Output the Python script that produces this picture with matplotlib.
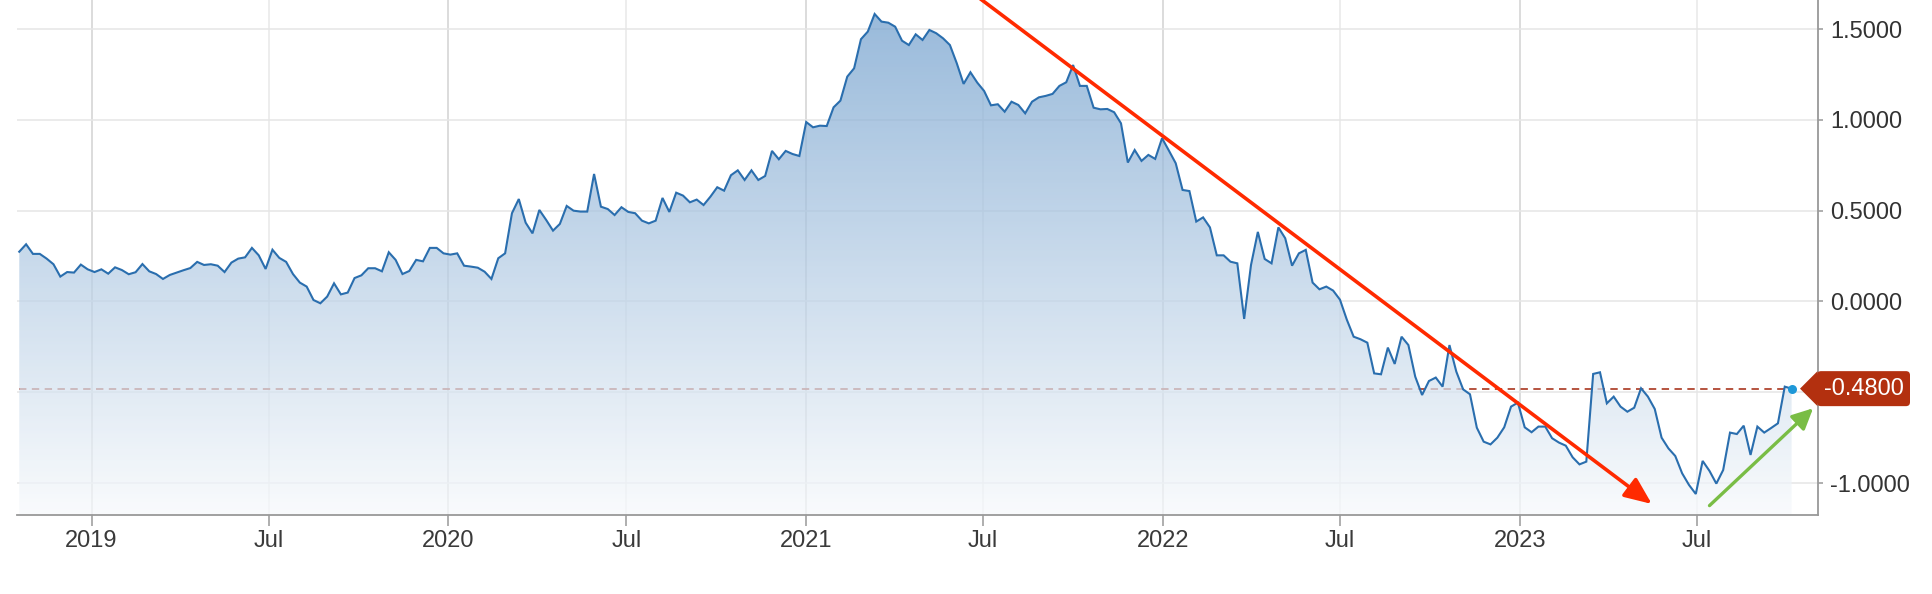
import numpy as np
import pandas as pd
import matplotlib
matplotlib.use("Agg")
import matplotlib.pyplot as plt
import matplotlib.dates as mdates
from matplotlib.patches import Polygon, FancyBboxPatch
from matplotlib.transforms import ScaledTranslation

plt.rcParams['font.family'] = ['Liberation Sans', 'DejaVu Sans']
plt.rcParams['axes.unicode_minus'] = False

# ---------------- data ----------------
last_date = '2023-10-06'
values = [
    0.274, 0.315, 0.262, 0.262, 0.236, 0.205, 0.137, 0.162, 0.159, 0.203,
    0.177, 0.162, 0.177, 0.153, 0.188, 0.173, 0.150, 0.161, 0.206, 0.166,
    0.151, 0.124, 0.146, 0.159, 0.172, 0.184, 0.218, 0.201, 0.205, 0.197,
    0.162, 0.214, 0.236, 0.243, 0.295, 0.254, 0.179, 0.285, 0.240, 0.218,
    0.151, 0.104, 0.082, 0.008, -0.010, 0.027, 0.100, 0.039, 0.049, 0.129,
    0.144, 0.183, 0.183, 0.166, 0.271, 0.229, 0.151, 0.168, 0.229, 0.221,
    0.295, 0.295, 0.265, 0.258, 0.265,
    0.197, 0.192, 0.186, 0.164, 0.124, 0.238, 0.265, 0.486, 0.564, 0.434,
    0.375, 0.504, 0.449, 0.390, 0.427, 0.526, 0.500, 0.495, 0.495, 0.702,
    0.522, 0.509, 0.476, 0.519, 0.493, 0.486, 0.445, 0.430, 0.445, 0.570,
    0.493, 0.599, 0.583, 0.546, 0.561, 0.531, 0.577, 0.629, 0.610, 0.695,
    0.722, 0.669, 0.722, 0.669, 0.691, 0.829, 0.783, 0.829, 0.812, 0.801,
    0.988, 0.959, 0.968, 0.966, 1.069, 1.106, 1.238, 1.284, 1.444, 1.486,
    1.583, 1.541, 1.535, 1.513,
    1.436, 1.412, 1.471, 1.440, 1.495, 1.477, 1.449, 1.412, 1.312, 1.198,
    1.262, 1.205, 1.159, 1.080, 1.086, 1.045, 1.100, 1.082, 1.036, 1.100,
    1.124, 1.132, 1.143, 1.187, 1.207, 1.302, 1.187, 1.187, 1.067, 1.058,
    1.060, 1.042, 0.981, 0.765, 0.834, 0.774, 0.807, 0.785, 0.899, 0.831,
    0.761, 0.614, 0.608, 0.440, 0.463, 0.408, 0.254, 0.254, 0.219, 0.210,
    -0.096, 0.201, 0.383, 0.234, 0.210, 0.408, 0.348, 0.197, 0.265, 0.284,
    0.104, 0.067, 0.082, 0.060,
    0.010, -0.100,
    -0.194, -0.208, -0.227, -0.396, -0.401, -0.254, -0.344, -0.194, -0.240, -0.414,
    -0.515, -0.438, -0.419, -0.469, -0.240, -0.386, -0.484, -0.511, -0.695, -0.772,
    -0.787, -0.750, -0.693, -0.579, -0.557, -0.693, -0.720, -0.689, -0.689, -0.753,
    -0.777, -0.794, -0.858, -0.897, -0.882, -0.399, -0.390, -0.561, -0.524, -0.579,
    -0.607, -0.585, -0.478, -0.524, -0.592, -0.750, -0.809, -0.851, -0.946, -1.010,
    -1.060, -0.878, -0.933, -1.003, -0.928, -0.722, -0.730, -0.684, -0.845, -0.689,
    -0.722, -0.697, -0.671, -0.469, -0.480,
]
dates = pd.date_range(end=last_date, periods=len(values), freq='W-FRI')

tick_dates = ['2019-01-01', '2019-07-01', '2020-01-01', '2020-07-01', '2021-01-01',
              '2021-07-01', '2022-01-01', '2022-07-01', '2023-01-01', '2023-07-01']
tick_labels = ['2019', 'Jul', '2020', 'Jul', '2021', 'Jul', '2022', 'Jul', '2023', 'Jul']
y_ticks = [-1.0, -0.5, 0.0, 0.5, 1.0, 1.5]
y_tick_labels = ['-1.0000', '', '0.0000', '0.5000', '1.0000', '1.5000']
last_label = '-0.4800'
last_level = -0.48
x_range = ('2018-10-17', '2023-11-02')
y_range = (-1.173, 1.660)
down_trend = (('2021-05-20', 1.825), ('2023-05-16', -1.115))
up_trend = (('2023-07-14', -1.124), ('2023-10-28', -0.588))

# ---------------- figure ----------------
fig = plt.figure(figsize=(19.32, 5.94), dpi=100)
ax = fig.add_axes([17.3 / 1932, 79.5 / 594, (1818 - 17.3) / 1932, 514.5 / 594])

x = mdates.date2num(dates)
y = np.array(values)
xl0 = mdates.date2num(pd.Timestamp(x_range[0]))
xl1 = mdates.date2num(pd.Timestamp(x_range[1]))
y0, y1 = y_range

# gradient area fill (semi-transparent, clipped to area under line)
n = 256
t = np.linspace(0, 1, n)
bottom_c = np.array([247, 249.5, 252]) / 255.0
top_c = np.array([110, 157, 204]) / 255.0
rgba = np.zeros((n, 2, 4))
for i, ti in enumerate(t):
    rgba[i, :, :3] = bottom_c + ti * (top_c - bottom_c)
    rgba[i, :, 3] = 0.72
im = ax.imshow(rgba, extent=[xl0, xl1, y0, y1], origin='lower', aspect='auto',
               zorder=1, interpolation='bilinear')
verts = [(x[0], y0)] + list(zip(x, y)) + [(x[-1], y0)]
clip_poly = Polygon(verts, closed=True, facecolor='none', edgecolor='none',
                    transform=ax.transData)
ax.add_patch(clip_poly)
im.set_clip_path(clip_poly)

# reference dashed level
ax.hlines(last_level, x[0], x[-1], colors='#b5533f', linestyles=(0, (3.8, 2.8)),
          lw=1.4, zorder=0.8)

# main line
ax.plot(x, y, color='#2a6eae', lw=1.5, zorder=3, solid_joinstyle='miter')
ax.plot(x[-1], y[-1], 'o', color='#1e98d8', ms=6.5, mec='none', zorder=4)

ax.set_xlim(xl0, xl1)
ax.set_ylim(y0, y1)

# ticks / grid
ax.set_xticks([mdates.date2num(pd.Timestamp(d)) for d in tick_dates])
ax.set_xticklabels(tick_labels)
ax.yaxis.tick_right()
ax.set_yticks(y_ticks)
ax.set_yticklabels(y_tick_labels)
ax.tick_params(axis='x', length=8, width=1.1, color='#999999', pad=3,
               labelsize=17, labelcolor='#3a3a3a')
ax.tick_params(axis='y', length=3.6, width=1.1, color='#999999', pad=5,
               labelsize=17, labelcolor='#333333')
ax.set_axisbelow(True)
ax.grid(axis='y', color='#e6e6e6', lw=1.1, zorder=0)
ax.grid(axis='x', lw=1.1, zorder=0)
for gl, lab in zip(ax.get_xgridlines(), tick_labels):
    gl.set_color('#e8e8e8' if lab == 'Jul' else '#d2d2d2')

for s in ['top', 'left']:
    ax.spines[s].set_visible(False)
for s in ['right', 'bottom']:
    ax.spines[s].set_color('#999999')
    ax.spines[s].set_linewidth(1.3)
ax.set_facecolor('white')

# trend arrows
def add_arrow(seg, color, lw, ms, hl, hw):
    (d0, v0), (d1, v1) = seg
    ax.annotate('', xy=(mdates.date2num(pd.Timestamp(d1)), v1),
                xytext=(mdates.date2num(pd.Timestamp(d0)), v0),
                arrowprops=dict(arrowstyle=f'-|>,head_length={hl},head_width={hw}',
                                color=color, lw=lw, shrinkA=0, shrinkB=0,
                                mutation_scale=ms),
                annotation_clip=False, zorder=6)

add_arrow(down_trend, '#ff2a00', 2.6, 22, 0.75, 0.32)
add_arrow(up_trend, '#79bd45', 2.4, 18, 0.7, 0.34)

# last value tag at right axis
tr = ScaledTranslation(1.0, last_level, ax.get_yaxis_transform())
tag_color = '#b3300f'
body = FancyBboxPatch((-1, -17.5), 93, 35, boxstyle='round,pad=0,rounding_size=4',
                      transform=tr, facecolor=tag_color, edgecolor='none',
                      clip_on=False, zorder=10)
tip = Polygon([(-18, 0), (-0.5, 17.5), (-0.5, -17.5)], closed=True, transform=tr,
              facecolor=tag_color, edgecolor='none', clip_on=False, zorder=10)
ax.add_patch(body)
ax.add_patch(tip)
ax.text(45.5, 0, last_label, transform=tr, ha='center', va='center',
        color='white', fontsize=17, zorder=11, clip_on=False)

fig.savefig('out.png', dpi=100)
